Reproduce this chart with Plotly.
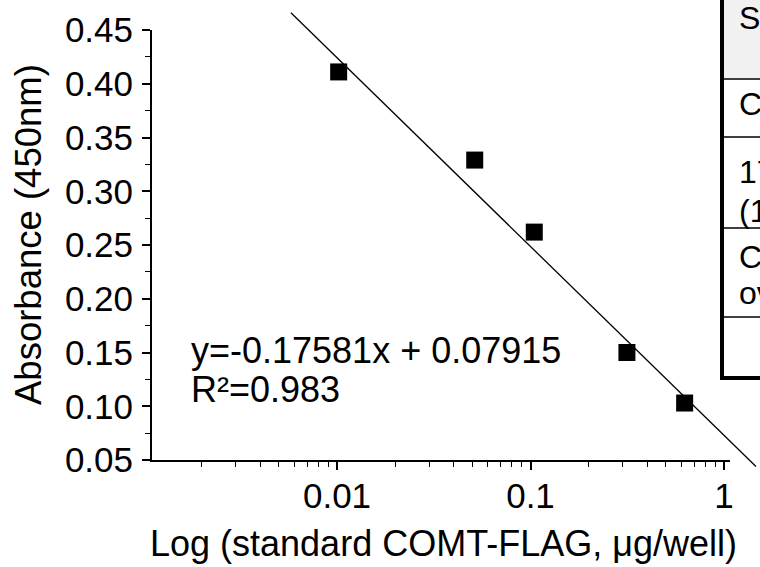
import plotly.graph_objects as go

# ---------------- data ----------------
dose = [0.0102, 0.0515, 0.1046, 0.315, 0.626]        # standard COMT-FLAG, ug/well
absorbance = [0.411, 0.329, 0.262, 0.150, 0.103]     # A450
fit_slope = -0.17581
fit_intercept = 0.07915
r_squared = 0.983
trend_x = [0.00578, 1.463]          # extent of the drawn regression line
trend_y = [0.466, 0.044]

x_tickvals = [0.01, 0.1, 1]
x_ticktext = ["0.01", "0.1", "1"]
x_minor = [m * 10.0 ** e for e in (-3, -2, -1) for m in range(2, 10)]
y_tickvals = [0.05, 0.10, 0.15, 0.20, 0.25, 0.30, 0.35, 0.40, 0.45]
y_ticktext = ["%.2f" % v for v in y_tickvals]
y_minor = [0.075, 0.125, 0.175, 0.225, 0.275, 0.325, 0.375, 0.425]

table_text = ["S", "C", "17", "(1", "C", "ov"]

# ---------------- layout geometry (pixels) ----------------
W, H = 760, 567
ML, MR, MT, MB = 152, 0, 4, 95             # full (paper) area 152..760 x 4..472
PX_L, PX_R, PY_T, PY_B = 152, 730, 30, 460  # visible axes box
paper_w = W - ML - MR
paper_h = H - MT - MB
dec_px = 193.5
x_log_left = -2.0 - (337 - PX_L) / dec_px
y_per_px = (0.45 - 0.05) / (PY_B - PY_T)

def xp(px):
    return (px - ML) / paper_w

def yp(py):
    return (H - MB - py) / paper_h

x_range = [x_log_left, x_log_left + (PX_R - PX_L) / dec_px]
y_range = [0.05, 0.45]
x2_range = [x_log_left, x_log_left + paper_w / dec_px]
y2_range = [0.05 - (H - MB - PY_B) * y_per_px, 0.45 + (PY_T - MT) * y_per_px]

FONT = "Liberation Sans, Arial, sans-serif"

fig = go.Figure()
fig.add_trace(go.Scatter(
    x=trend_x, y=trend_y, mode="lines", xaxis="x2", yaxis="y2",
    line=dict(color="black", width=1.3), showlegend=False, hoverinfo="skip"))
fig.add_trace(go.Scatter(
    x=dose, y=absorbance, mode="markers",
    marker=dict(symbol="square", size=17, color="black"),
    showlegend=False, cliponaxis=False))

axis_common = dict(showgrid=False, zeroline=False, showline=True, linecolor="black",
                   linewidth=2, ticks="outside", ticklen=8, tickwidth=1.5, automargin=False,
                   tickcolor="black", tickfont=dict(family=FONT, size=35, color="black"))

fig.update_layout(
    width=W, height=H,
    margin=dict(l=ML, r=MR, t=MT, b=MB, autoexpand=False),
    paper_bgcolor="white", plot_bgcolor="rgba(0,0,0,0)",
    xaxis=dict(type="log", range=x_range, domain=[0, xp(PX_R)], anchor="y",
               tickmode="array", tickvals=x_tickvals, ticktext=x_ticktext,
               ticklabelstandoff=-4,
               minor=dict(tickmode="array", tickvals=x_minor, ticks="outside",
                          ticklen=5, tickwidth=1.3, tickcolor="black"),
               **axis_common),
    yaxis=dict(range=y_range, domain=[yp(PY_B), yp(PY_T)], anchor="x",
               tickmode="array", tickvals=y_tickvals, ticktext=y_ticktext,
               ticklabelstandoff=2,
               minor=dict(tickmode="array", tickvals=y_minor, ticks="outside",
                          ticklen=5, tickwidth=1.3, tickcolor="black"),
               **axis_common),
    xaxis2=dict(type="log", range=x2_range, domain=[0, 1], anchor="y2",
                visible=False, automargin=False),
    yaxis2=dict(range=y2_range, domain=[0, 1], anchor="x2",
                visible=False, automargin=False),
)

# axis titles and fit text
fig.add_annotation(text="Log (standard COMT-FLAG, \u03bcg/well)", xref="paper", yref="paper",
                   x=xp((PX_L + PX_R) / 2 + 2), y=yp(543), xanchor="center", yanchor="middle",
                   showarrow=False, font=dict(family=FONT, size=36, color="black"))
fig.add_annotation(text="Absorbance (450nm)", xref="paper", yref="paper",
                   x=xp(28), y=yp(235), xanchor="center", yanchor="middle", textangle=-90,
                   showarrow=False, font=dict(family=FONT, size=36.5, color="black"))
eq = "y=%.5fx + %.5f" % (fit_slope, fit_intercept)
fig.add_annotation(text=eq, xref="paper", yref="paper", x=xp(189), y=yp(350),
                   xanchor="left", yanchor="middle", showarrow=False,
                   font=dict(family=FONT, size=36, color="black"))
fig.add_annotation(text="R\u00b2=%.3f" % r_squared, xref="paper", yref="paper", x=xp(189), y=yp(389),
                   xanchor="left", yanchor="middle", showarrow=False,
                   font=dict(family=FONT, size=36, color="black"))

# partial table at the right edge
TL, TR = 722, 800
row_lines = [79, 137, 228, 317]
fig.add_shape(type="rect", xref="paper", yref="paper", x0=xp(TL), x1=xp(TR), y0=yp(-5), y1=yp(79),
              fillcolor="#f1f1f1", line=dict(width=0), layer="below")
for ry in row_lines:
    fig.add_shape(type="line", xref="paper", yref="paper", x0=xp(TL), x1=xp(TR), y0=yp(ry), y1=yp(ry),
                  line=dict(color="black", width=1.6))
fig.add_shape(type="line", xref="paper", yref="paper", x0=xp(TL), x1=xp(TL), y0=yp(-5), y1=yp(380),
              line=dict(color="black", width=4))
fig.add_shape(type="line", xref="paper", yref="paper", x0=xp(TL - 2), x1=xp(TR), y0=yp(378), y1=yp(378),
              line=dict(color="black", width=4))
text_y = [18, 104, 172, 211, 257, 293]
for t, ty in zip(table_text, text_y):
    fig.add_annotation(text=t, xref="paper", yref="paper", x=xp(737), y=yp(ty),
                       xanchor="left", yanchor="middle", showarrow=False,
                       font=dict(family=FONT, size=32, color="black"))

fig.write_html("out.html", config={"displayModeBar": False},
               post_script="document.body.style.margin='0';")
